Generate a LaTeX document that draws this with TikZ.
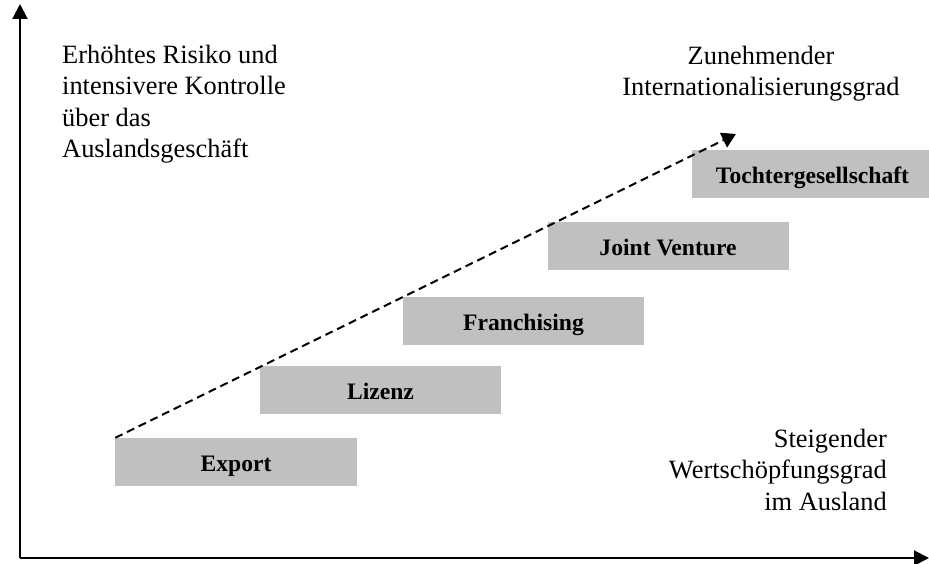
\documentclass[tikz,border=0pt]{standalone}
\usepackage{fontspec}
\setmainfont{Liberation Serif}
\usetikzlibrary{arrows.meta}
\begin{document}
\begin{tikzpicture}[x=1bp,y=-1bp,
  stagebox/.style={fill={rgb,255:red,192;green,192;blue,192}, draw=none,
    minimum width=241bp, minimum height=48bp, inner sep=0pt,
    text height=19bp, text depth=0bp,
    font=\fontsize{23.6bp}{27bp}\selectfont\bfseries},
  labeltext/.style={inner sep=0pt, font=\fontsize{26.4bp}{31.3bp}\selectfont},
  axis/.style={line width=2bp, -{Triangle[length=15bp,width=15bp]}},
  trend/.style={line width=2bp, dash pattern=on 8bp off 5bp,
    -{Triangle[length=14bp,width=16bp]}}]
\useasboundingbox (0,0) rectangle (929,564);
% axes
\coordinate (o) at (20,558);
\coordinate (ytip) at (20,4);
\coordinate (xtip) at (929,558);
\draw[axis] (o) -- (ytip);
\draw[axis] (o) -- (xtip);
% stage boxes
\node[stagebox] (export) at (236,462) {Export};
\node[stagebox] (lizenz) at (380.5,390) {Lizenz};
\node[stagebox] (franch) at (523.5,320.5) {Franchising};
\node[stagebox] (jv) at (668,246) {Joint Venture};
\node[stagebox] (tochter) at (812.5,174) {Tochtergesellschaft};
% trend arrow
\coordinate (trendend) at (736,134);
\draw[trend] (export.north west) -- (trendend);
% labels
\node[labeltext, anchor=north west, align=left] (risk) at (62,45)
  {Erhöhtes Risiko und\\intensivere Kontrolle\\über das\\Auslandsgeschäft};
\node[labeltext, anchor=north, align=center] (intl) at (761,46)
  {Zunehmender\\Internationalisierungsgrad};
\node[labeltext, anchor=north east, align=right] (wert) at (887,429)
  {Steigender\\Wertschöpfungsgrad\\im Ausland};
\end{tikzpicture}
\end{document}
